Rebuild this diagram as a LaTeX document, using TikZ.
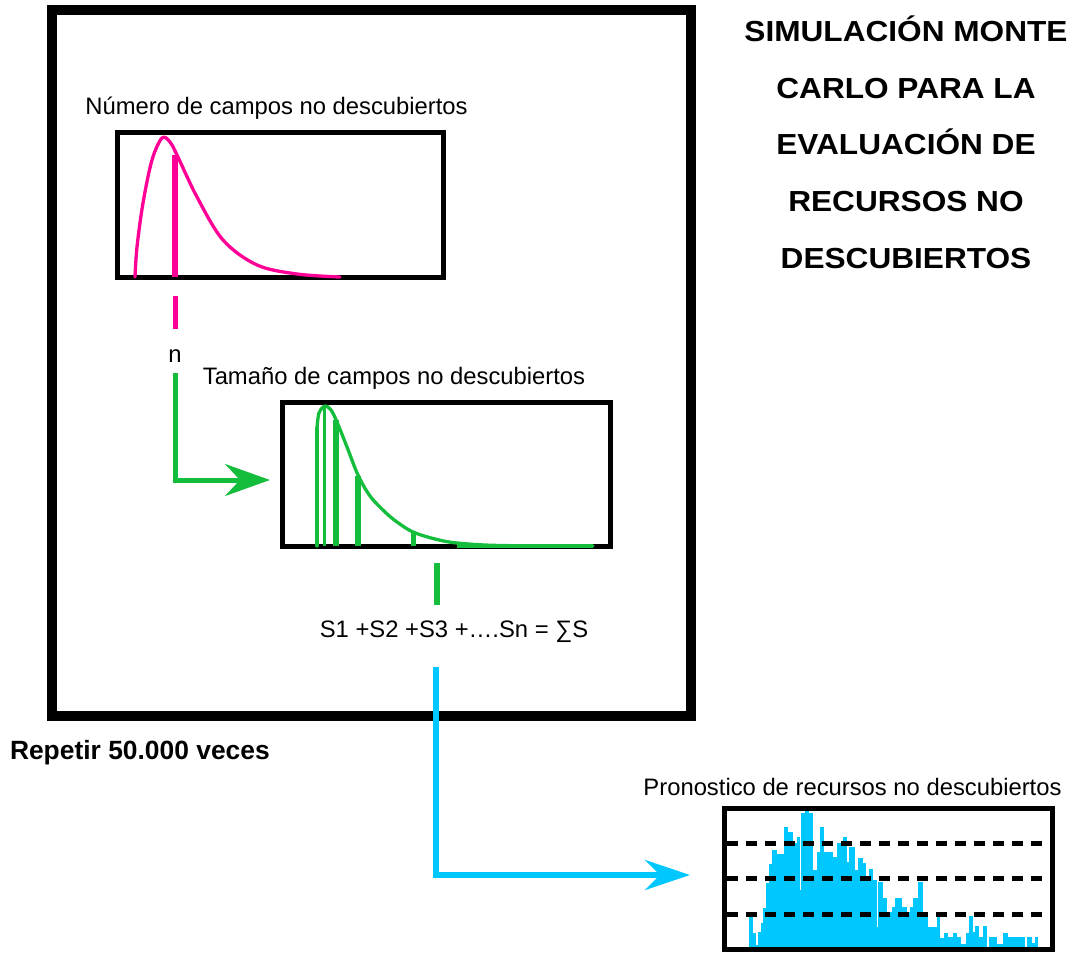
\documentclass[tikz,border=0pt]{standalone}
\usepackage{fontspec}
\setmainfont{Liberation Sans}
\usetikzlibrary{arrows.meta}
\definecolor{pinkc}{RGB}{255,0,150}
\definecolor{greenc}{RGB}{20,190,60}
\definecolor{cyanc}{RGB}{0,200,255}
\begin{document}
\begin{tikzpicture}[x=1pt,y=-1pt,
  box/.style={draw=black, inner sep=0pt, outer sep=0pt, line join=miter},
  lbl/.style={font=\fontsize{23.8}{28}\selectfont, inner sep=0pt, anchor=base},
  ttl/.style={font=\fontsize{29}{32}\selectfont\bfseries, inner sep=0pt, anchor=base},
  pinkline/.style={draw=pinkc, line width=5pt},
  greenline/.style={draw=greenc, line width=5pt},
  cyanline/.style={draw=cyanc, line width=6pt},
  curve/.style={line width=3.3pt, line cap=round, line join=round},
  hdash/.style={draw=black, line width=5pt, dash pattern=on 11pt off 8pt}]
\useasboundingbox (0,0) rectangle (1075,952);

% outer frame
\node[box, line width=10pt, minimum width=639pt, minimum height=706pt] (frame) at (371.5,363) {};

% title
\node[ttl] (t1) at (906,41.7) {\scalebox{1.09}[1]{SIMULACIÓN MONTE}};
\node[ttl] (t2) at (906,98.3) {\scalebox{1.09}[1]{CARLO PARA LA}};
\node[ttl] (t3) at (906,155) {\scalebox{1.09}[1]{EVALUACIÓN DE}};
\node[ttl] (t4) at (906,211.7) {\scalebox{1.09}[1]{RECURSOS NO}};
\node[ttl] (t5) at (906,268.3) {\scalebox{1.09}[1]{DESCUBIERTOS}};

\node[font=\fontsize{26.4}{30}\selectfont\bfseries, inner sep=0pt, anchor=base west] (rep) at (9.8,759.5) {Repetir 50.000 veces};

% pink box
\node[lbl] (plab) at (276.5,115) {Número de campos no descubiertos};
\node[box, line width=5pt, minimum width=325.5pt, minimum height=145pt] (pbox) at (280.25,205) {};
\draw[pinkc, curve] plot[smooth, tension=0.55] coordinates {(135,277) (137,247) (143,203) (152,160) (162,138) (170,142) (177,155) (197,197) (223,240) (257,265) (297,274) (340,277)};
\draw[pinkc, line width=6pt] (175,155) -- (175,277);

% connector pink -> n
\coordinate (pk1) at (175,296);
\coordinate (pk2) at (175,329);
\draw[pinkline] (pk1) -- (pk2);
\node[lbl] (nlab) at (175,362) {n};

% green box
\node[lbl] (glab) at (394,384) {Tamaño de campos no descubiertos};
\coordinate (gl1) at (175,373);
\coordinate (gl2) at (270,480);
\draw[greenline, -{Stealth[length=45pt,width=32pt,inset=15pt]}] (gl1) |- (gl2);

\node[box, line width=5pt, minimum width=327.5pt, minimum height=144.5pt] (gbox) at (446.25,474.25) {};
\draw[greenc, curve] (317,546) -- (317,428);
\draw[greenc, curve] plot[smooth, tension=0.55] coordinates {(317,428) (319,413) (325,406) (331,410) (337,422) (347,447) (358,475) (370,496) (385,512) (397,522) (413,532) (435,539) (457,543) (500,545.5) (593,546)};
\draw[greenc, line width=3pt] (324,407) -- (324,546);
\draw[greenc, line width=6pt] (336,420) -- (336,546);
\draw[greenc, line width=6pt] (358,476) -- (358,546);
\draw[greenc, line width=5pt] (413,531) -- (413,546);
\draw[greenc, line width=4pt] (457,545.5) -- (593,545.5);

% connector to sum
\coordinate (gs1) at (437,563);
\coordinate (gs2) at (437,605);
\draw[greenc, line width=6pt] (gs1) -- (gs2);
\node[lbl] (sum) at (454,637) {S1 +S2 +S3 +….Sn = ∑S};

% cyan connector
\coordinate (c1) at (436,667);
\coordinate (c2) at (690,875);
\draw[cyanline, -{Stealth[length=45pt,width=30pt,inset=15pt]}] (c1) |- (c2);

% histogram
\node[lbl] (hlab) at (852.5,795) {Pronostico de recursos no descubiertos};
\begin{scope}[shift={(720pt,-800pt)}, x=0.33333pt, y=-0.33333pt]
\foreach \a/\b/\t in {88/100/348,100/108/400,108/115/435,115/122/395,122/130/370,130/138/325,138/146/248,146/155/192,155/172/150,172/192/162,192/205/82,205/220/96,220/230/130,230/240/112,240/244/270,244/255/40,255/268/22,268/278/40,278/290/210,290/300/155,300/312/82,312/340/155,340/350/170,350/370/130,370/380/112,380/388/185,388/405/140,405/415/210,415/428/175,428/438/190,438/446/240,446/458/208,458/470/240,470/475/380,475/490/245,490/500/295,500/515/335,515/525/320,525/545/295,545/560/322,560/570/335,570/580/320,580/595/295,595/608/245,608/625/335,625/650/380,650/660/348,660/672/415,672/685/398,685/700/410,700/712/400,712/722/410,722/738/432,738/748/398,748/758/348,758/765/395,765/778/378,778/790/410,790/802/378,808/832/410,832/850/432,850/865/398,865/885/410,885/915/412,922/935/410,935/945/430,945/955/410}
  \fill[cyanc] (\a-0.3,441) rectangle (\b+0.3,\t);
\end{scope}
\coordinate (d1a) at (727,843); \coordinate (d1b) at (1050,843);
\coordinate (d2a) at (727,878); \coordinate (d2b) at (1050,878);
\coordinate (d3a) at (727,914); \coordinate (d3b) at (1050,914);
\draw[hdash] (d1a) -- (d1b);
\draw[hdash] (d2a) -- (d2b);
\draw[hdash] (d3a) -- (d3b);
\node[box, line width=5pt, minimum width=328pt, minimum height=141pt] (hbox) at (888,878.5) {};
\end{tikzpicture}
\end{document}
